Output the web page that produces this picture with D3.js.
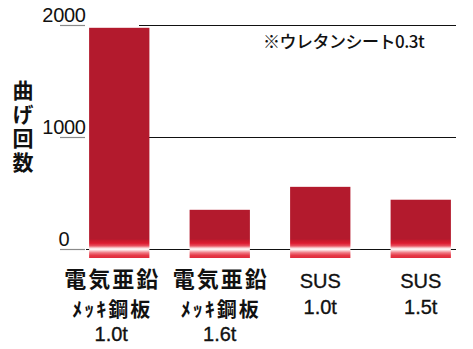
<!DOCTYPE html>
<html>
<head>
<meta charset="utf-8">
<script src="https://cdn.jsdelivr.net/npm/d3@7"></script>
<style>
  html, body { margin: 0; padding: 0; background: #fff; }
  svg { display: block; }
</style>
</head>
<body>
<svg id="chart" width="473" height="349"></svg>
<script>
// Bend-cycle counts for each sheet material
const categories = ["zinc10", "zinc16", "sus10", "sus15"];
const labelLines = [
  ["電気亜鉛", "ﾒｯｷ鋼板", "1.0t"],
  ["電気亜鉛", "ﾒｯｷ鋼板", "1.6t"],
  ["SUS", "1.0t"],
  ["SUS", "1.5t"]
];
const values = [1975, 350, 555, 440];
const yTicks = [0, 1000, 2000];
const yTitle = "曲げ回数";
const note = "※ウレタンシート0.3t";

const svg = d3.select("#chart");

const x = d3.scaleBand().domain(categories).range([69, 471]).paddingInner(0.4).paddingOuter(0.2);
const y = d3.scaleLinear().domain([0, 2000]).range([249, 25]);

const jp = "'Noto Sans CJK JP', sans-serif";
const latin = "'Liberation Sans', Arial, sans-serif";

// gradient for the faded foot of each bar
const defs = svg.append("defs");
const grad = defs.append("linearGradient").attr("id", "foot").attr("x1", 0).attr("y1", 0).attr("x2", 0).attr("y2", 1);
[
  [0, "#b31a2d"], [0.08, "#c8182c"], [0.22, "#dc1a30"], [0.36, "#e8505f"],
  [0.46, "#f8c4c8"], [0.53, "#ffffff"], [0.6, "#fbd4d6"], [0.72, "#f07a84"],
  [0.86, "#e63a48"], [1, "#e02a3a"]
].forEach(([o, c]) => grad.append("stop").attr("offset", o).attr("stop-color", c));

// horizontal guide lines
const lineEnd = 456;
svg.append("g").selectAll("line").data(yTicks).join("line")
  .attr("x1", d => d === 0 ? 86 : 139)
  .attr("x2", lineEnd)
  .attr("y1", d => Math.round(y(d)) + 0.5)
  .attr("y2", d => Math.round(y(d)) + 0.5)
  .attr("stroke", "#111").attr("stroke-width", 1);

// tick marks and labels on the left
const tickG = svg.append("g");
tickG.selectAll("line").data(yTicks).join("line")
  .attr("x1", 60).attr("x2", 85)
  .attr("y1", d => Math.round(y(d)) + 0.5)
  .attr("y2", d => Math.round(y(d)) + 0.5)
  .attr("stroke", "#8a8a8a").attr("stroke-width", 1.2);
tickG.selectAll("text").data(yTicks).join("text")
  .attr("x", 64)
  .attr("y", d => y(d) - 3)
  .attr("text-anchor", "middle")
  .attr("font-family", latin)
  .attr("font-size", 20)
  .attr("letter-spacing", -0.3)
  .attr("fill", "#111")
  .text(d => d);

// bars: solid body plus a gradient foot that straddles the zero line
const footTop = 10, footBottom = 9;
const bars = svg.append("g").selectAll("g").data(values).join("g");
bars.append("rect")
  .attr("x", (d, i) => x(categories[i]))
  .attr("width", x.bandwidth())
  .attr("y", d => y(d))
  .attr("height", d => Math.max(0, y(0) - footTop - y(d)))
  .attr("fill", "#b31a2d");
bars.append("rect")
  .attr("x", (d, i) => x(categories[i]))
  .attr("width", x.bandwidth())
  .attr("y", y(0) - footTop)
  .attr("height", footTop + footBottom)
  .attr("fill", "url(#foot)");

// category labels: each line has its own size and baseline
const lineStyle = [
  { base: 287, jpSize: 22, jpSpacing: 2 },
  { base: 317, jpSize: 20, jpSpacing: 2 },
  { base: 341 }
];
const catG = svg.append("g");
labelLines.forEach((lines, i) => {
  const cx = x(categories[i]) + x.bandwidth() / 2 + (i === 0 ? -8 : 0);
  lines.forEach((t, j) => {
    const isJp = /[^\x00-\x7F]/.test(t);
    const st = lineStyle[j];
    catG.append("text")
      .attr("x", cx + (isJp ? st.jpSpacing / 2 : 0))
      .attr("y", isJp ? st.base : (j === 0 ? 288 : j === 1 ? 314 : st.base))
      .attr("text-anchor", "middle")
      .attr("font-family", isJp ? jp : latin)
      .attr("font-weight", isJp ? 700 : 400)
      .attr("font-size", isJp ? st.jpSize : 20)
      .attr("letter-spacing", isJp ? st.jpSpacing : 0)
      .attr("stroke", isJp ? "none" : "#111")
      .attr("stroke-width", isJp ? 0 : 0.35)
      .attr("fill", "#111")
      .text(t);
  });
});

// vertical axis title, set top to bottom
svg.append("text")
  .attr("x", 23)
  .attr("y", 80)
  .attr("writing-mode", "vertical-rl")
  .attr("font-family", jp)
  .attr("font-weight", 700)
  .attr("font-size", 21)
  .attr("letter-spacing", 3)
  .attr("fill", "#111")
  .text(yTitle);

// material note
svg.append("text")
  .attr("x", 263).attr("y", 48)
  .attr("font-family", jp)
  .attr("font-weight", 500)
  .attr("font-size", 17)
  .attr("letter-spacing", -0.5)
  .attr("fill", "#111")
  .text(note);
</script>
</body>
</html>
